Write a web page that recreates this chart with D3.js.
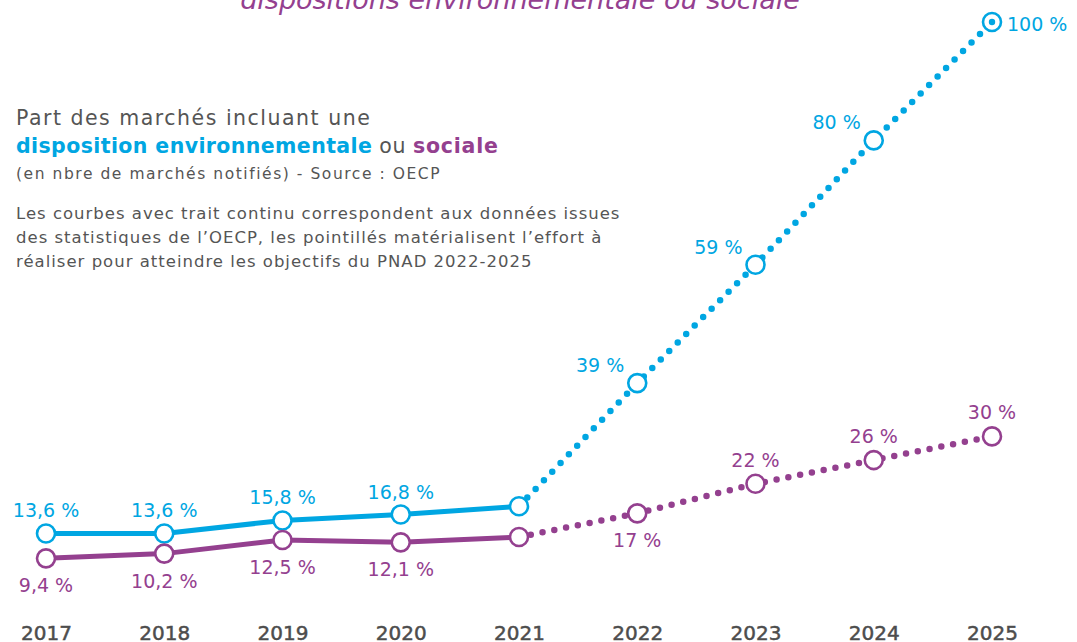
<!DOCTYPE html>
<html>
<head>
<meta charset="utf-8">
<script src="https://cdn.jsdelivr.net/npm/d3@7"></script>
<style>
	body { margin: 0; background: #fff; }
	svg { display: block; font-family: "DejaVu Sans", sans-serif; }
</style>
</head>
<body>
<div id="chart"></div>
<script>
const years = [2017, 2018, 2019, 2020, 2021, 2022, 2023, 2024, 2025];
const envValues = [13.6, 13.6, 15.8, 16.8, 18.2, 39, 59, 80, 100];
const socValues = [9.4, 10.2, 12.5, 12.1, 13.0, 17, 22, 26, 30];
const envLabels = ["13,6 %", "13,6 %", "15,8 %", "16,8 %", "", "39 %", "59 %", "80 %", "100 %"];
const socLabels = ["9,4 %", "10,2 %", "12,5 %", "12,1 %", "", "17 %", "22 %", "26 %", "30 %"];
const lastObserved = 2021;

const width = 1077;
const height = 642;
const blue = "#00a6e2";
const purple = "#94408f";

const x = d3.scalePoint().domain(years).range([46, 992]);
const y = d3.scaleLinear().domain([0, 100]).range([614, 22]);

const svg = d3.select("#chart")
	.append("svg")
	.attr("width", width)
	.attr("height", height);

// titre coupé en haut
svg.append("text")
	.attr("x", 520)
	.attr("y", 9)
	.attr("text-anchor", "middle")
	.style("font-size", "27px")
	.style("font-style", "italic")
	.attr("fill", purple)
	.text("dispositions environnementale ou sociale");

// bloc de texte
const intro = svg.append("g").attr("fill", "#555");
intro.append("text").attr("x", 16).attr("y", 125)
	.style("font-size", "20.5px")
	.style("letter-spacing", "1.5px")
	.text("Part des marchés incluant une");
const l2 = intro.append("text").attr("x", 16).attr("y", 153).style("font-size", "20.5px");
l2.append("tspan").attr("fill", blue).style("font-weight", "bold")
	.style("letter-spacing", "0.4px").text("disposition environnementale");
l2.append("tspan").style("letter-spacing", "0.5px").text(" ou ");
l2.append("tspan").attr("fill", purple).style("font-weight", "bold")
	.style("letter-spacing", "0.8px").text("sociale");
intro.append("text").attr("x", 16).attr("y", 179)
	.style("font-size", "15.5px")
	.style("letter-spacing", "1.55px")
	.text("(en nbre de marchés notifiés) - Source : OECP");
[
	"Les courbes avec trait continu correspondent aux données issues",
	"des statistiques de l’OECP, les pointillés matérialisent l’effort à",
	"réaliser pour atteindre les objectifs du PNAD 2022-2025",
].forEach((t, i) => {
	intro.append("text").attr("x", 16).attr("y", 219 + i * 24)
		.style("font-size", "16.5px")
		.style("letter-spacing", "1px")
		.text(t);
});

// axe des années
const xAxis = svg.append("g")
	.attr("transform", `translate(0, ${height - 2})`)
	.call(d3.axisBottom(x).tickSize(0).tickPadding(0));
xAxis.select(".domain").remove();
xAxis.selectAll("text")
	.attr("dy", 0)
	.attr("fill", "#4d4d4d")
	.style("font-size", "20px")
	.style("font-family", "DejaVu Sans, sans-serif")
	.style("stroke", "#4d4d4d")
	.style("stroke-width", 0.5);

const series = [
	{ values: envValues, labels: envLabels, color: blue, key: "env" },
	{ values: socValues, labels: socLabels, color: purple, key: "soc" },
];

const line = d3.line().x((d) => x(d.year)).y((d) => y(d.value));

series.forEach((s) => {
	const pts = years.map((year, i) => ({ year, value: s.values[i], label: s.labels[i] }));
	const solid = pts.filter((d) => d.year <= lastObserved);
	const dotted = pts.filter((d) => d.year >= lastObserved);

	svg.append("path")
		.datum(dotted)
		.attr("d", line)
		.attr("fill", "none")
		.attr("stroke", s.color)
		.attr("stroke-width", 6.5)
		.attr("stroke-linecap", "round")
		.attr("stroke-dasharray", "0 12");

	svg.append("path")
		.datum(solid)
		.attr("d", line)
		.attr("fill", "none")
		.attr("stroke", s.color)
		.attr("stroke-width", 5)
		.attr("stroke-linejoin", "round");

	svg.append("g")
		.selectAll("circle")
		.data(pts)
		.join("circle")
		.attr("cx", (d) => x(d.year))
		.attr("cy", (d) => y(d.value))
		.attr("r", 9)
		.attr("fill", "#fff")
		.attr("stroke", s.color)
		.attr("stroke-width", 2.6);

	s.pts = pts;
});

// point central de l'objectif 2025
const goal = series[0].pts[series[0].pts.length - 1];
svg.append("circle")
	.attr("cx", x(goal.year))
	.attr("cy", y(goal.value))
	.attr("r", 3.2)
	.attr("fill", blue);

// étiquettes
const labelPos = (s, d) => {
	if (s.key === "env") {
		if (d.year <= lastObserved) return { dx: 0, dy: -16, anchor: "middle" };
		if (d.value === 100) return { dx: 15, dy: 9, anchor: "start" };
		return { dx: -13, dy: -11, anchor: "end" };
	}
	if (d.year <= 2022) return { dx: 0, dy: 34, anchor: "middle" };
	return { dx: 0, dy: -17, anchor: "middle" };
};

series.forEach((s) => {
	svg.append("g")
		.selectAll("text")
		.data(s.pts.filter((d) => d.label))
		.join("text")
		.each(function (d) {
			const p = labelPos(s, d);
			d3.select(this)
				.attr("x", x(d.year) + p.dx)
				.attr("y", y(d.value) + p.dy)
				.attr("text-anchor", p.anchor);
		})
		.attr("fill", s.color)
		.style("font-size", "19px")
		.text((d) => d.label);
});
</script>
</body>
</html>
